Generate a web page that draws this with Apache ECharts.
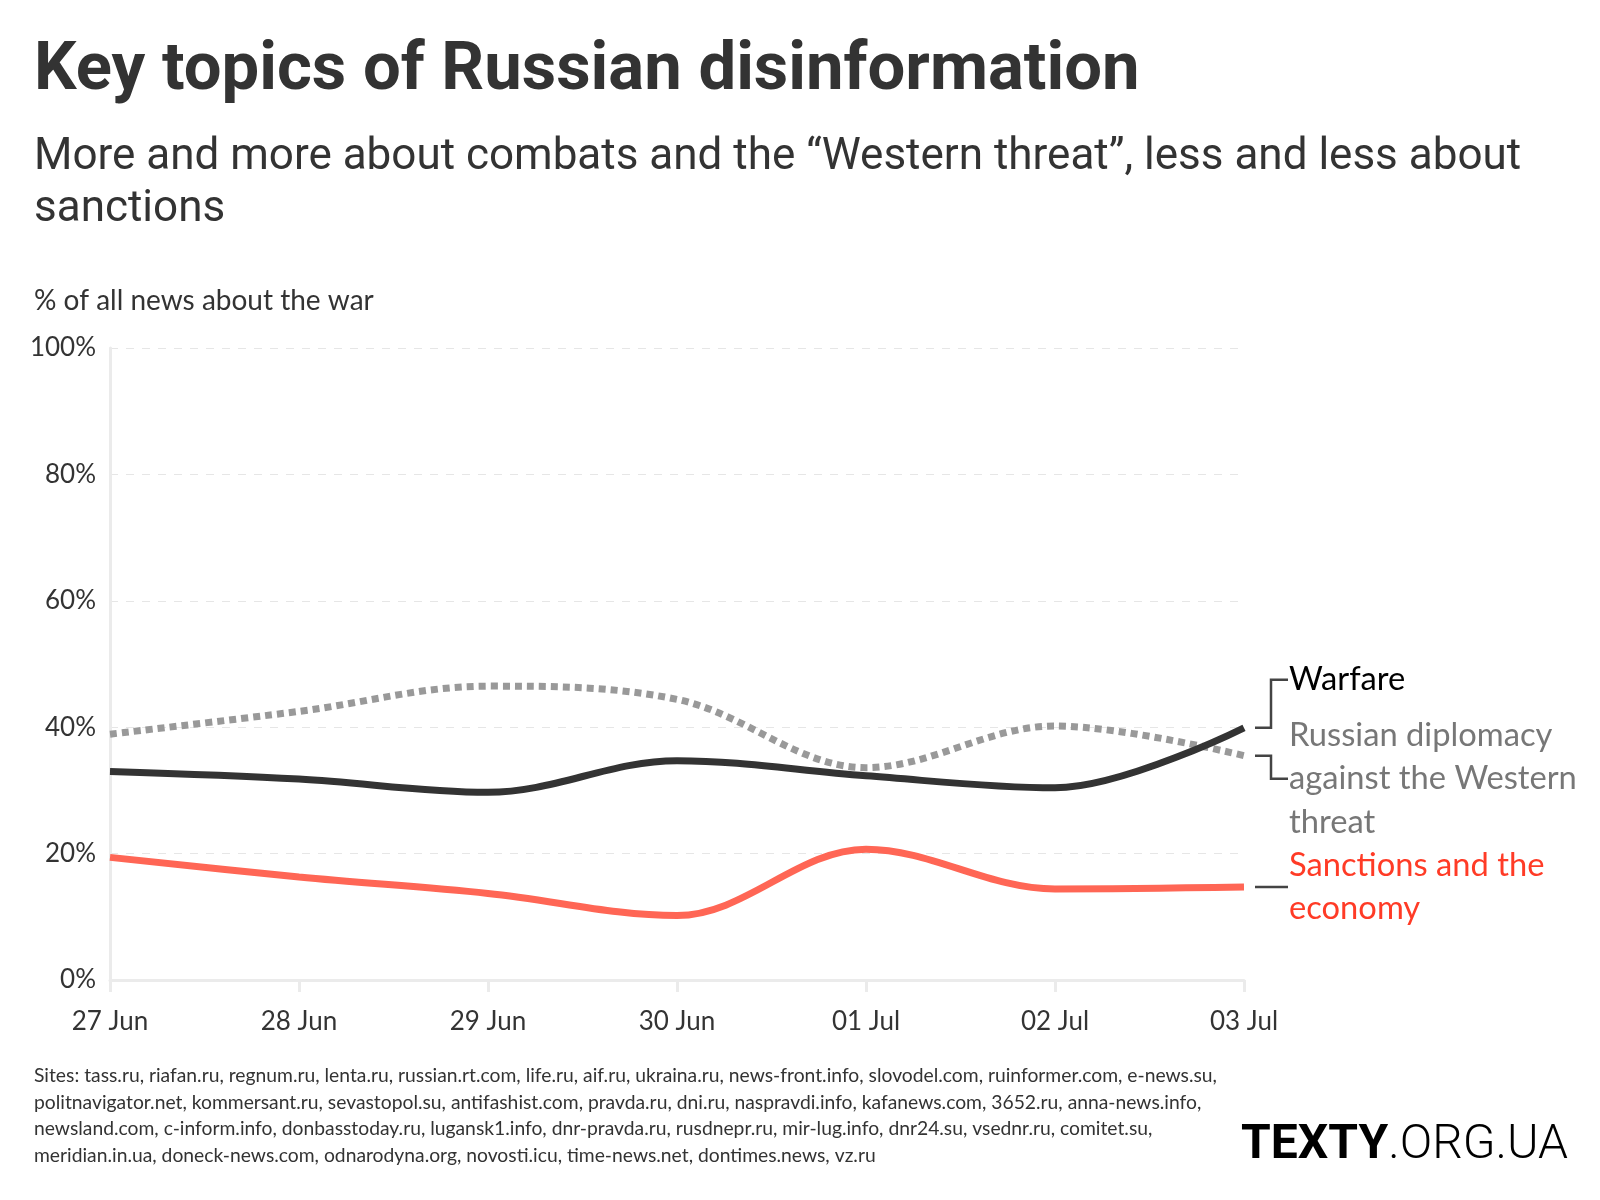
<!DOCTYPE html>
<html>
<head>
<meta charset="utf-8">
<script src="https://cdn.jsdelivr.net/npm/echarts@6/dist/echarts.min.js"></script>
<style>
html,body{margin:0;padding:0;background:#fff;}
#chart{width:1600px;height:1200px;}
</style>
</head>
<body>
<div id="chart"></div>
<script>
const categories = ['27 Jun','28 Jun','29 Jun','30 Jun','01 Jul','02 Jul','03 Jul'];
const warfare = [33.0, 31.8, 29.7, 34.7, 32.3, 30.4, 39.9];
const diplomacy = [38.9, 42.5, 46.5, 44.4, 33.6, 40.2, 35.5];
const sanctions = [19.4, 16.3, 13.7, 10.2, 20.7, 14.4, 14.7];
const yTicks = [0, 20, 40, 60, 80, 100];
const seriesNames = ['Warfare', 'Russian diplomacy\nagainst the Western\nthreat', 'Sanctions and the\neconomy'];
const titleText = 'Key topics of Russian disinformation';
const subtitleText = 'More and more about combats and the \u201cWestern threat\u201d, less and less about\nsanctions';
const axisNameText = '% of all news about the war';
const footerText = 'Sites: tass.ru, riafan.ru, regnum.ru, lenta.ru, russian.rt.com, life.ru, aif.ru, ukraina.ru, news-front.info, slovodel.com, ruinformer.com, e-news.su,\npolitnavigator.net, kommersant.ru, sevastopol.su, antifashist.com, pravda.ru, dni.ru, naspravdi.info, kafanews.com, 3652.ru, anna-news.info,\nnewsland.com, c-inform.info, donbasstoday.ru, lugansk1.info, dnr-pravda.ru, rusdnepr.ru, mir-lug.info, dnr24.su, vsednr.ru, comitet.su,\nmeridian.in.ua, doneck-news.com, odnarodyna.org, novosti.icu, time-news.net, dontimes.news, vz.ru';

const BODY = 'Lato, "Noto Sans", sans-serif';
const HEAD = 'Roboto, sans-serif';

const chart = echarts.init(document.getElementById('chart'), null, {renderer: 'canvas'});

const option = {
  backgroundColor: '#fff',
  animation: false,
  title: [
    {text: titleText, left: 29, top: 34, textStyle: {fontFamily: HEAD, fontWeight: 'bold', fontSize: 67, color: '#333'}},
    {text: subtitleText, left: 29, top: 127, textStyle: {fontFamily: HEAD, fontWeight: 'normal', fontSize: 44, lineHeight: 52, color: '#333'}},
    {text: axisNameText, left: 29, top: 282, textStyle: {fontFamily: BODY, fontWeight: 'normal', fontSize: 28, color: '#333'}},
    {text: footerText, left: 29, top: 1058, textStyle: {fontFamily: BODY, fontWeight: 'normal', fontSize: 19.3, lineHeight: 26.5, color: '#333'}},
    {text: '{b|TEXTY}{l|.ORG.UA}', right: 27, top: 1117, textStyle: {rich: {
      b: {fontFamily: HEAD, fontWeight: 'bold', fontSize: 48, color: '#000'},
      l: {fontFamily: HEAD, fontWeight: 300, fontSize: 48, color: '#000'}
    }}}
  ],
  grid: {left: 110, right: 356, top: 348, bottom: 220, containLabel: false},
  xAxis: {
    type: 'category',
    data: categories,
    boundaryGap: false,
    axisLine: {lineStyle: {color: '#ebebeb', width: 3}},
    axisTick: {show: true, length: 12, lineStyle: {color: '#ebebeb', width: 3}},
    axisLabel: {fontFamily: BODY, fontSize: 26, color: '#333', margin: 29},
    splitLine: {show: false}
  },
  yAxis: {
    type: 'value',
    min: 0, max: 100, interval: 20,
    axisLine: {show: true, lineStyle: {color: '#ebebeb', width: 3}},
    axisTick: {show: false},
    axisLabel: {fontFamily: BODY, fontSize: 26, color: '#333', margin: 14,
      formatter: function (v) { return yTicks.indexOf(v) >= 0 ? v + '%' : ''; }},
    splitLine: {show: true, lineStyle: {color: '#e6e6e6', width: 1, type: [8, 8]}}
  },
  series: [
    {name: 'Diplomacy', type: 'line', data: diplomacy, smooth: 0.35, showSymbol: false, z: 2,
      lineStyle: {color: '#999999', width: 7, type: [7, 5], cap: 'butt'}},
    {name: 'Warfare', type: 'line', data: warfare, smooth: 0.35, showSymbol: false, z: 3,
      lineStyle: {color: '#333333', width: 7}},
    {name: 'Sanctions', type: 'line', data: sanctions, smooth: 0.35, showSymbol: false, z: 3,
      lineStyle: {color: '#ff6655', width: 7}}
  ]
};
chart.setOption(option);

// annotations positioned from the chart's own scales
const last = categories.length - 1;
const pW = chart.convertToPixel({gridIndex: 0}, [last, warfare[last]]);
const pD = chart.convertToPixel({gridIndex: 0}, [last, diplomacy[last]]);
const pS = chart.convertToPixel({gridIndex: 0}, [last, sanctions[last]]);
const x0 = pW[0] + 11, xm = pW[0] + 27, x1 = pW[0] + 44, tx = pW[0] + 45;
const lh = 43.5;
const wY = pW[1] - 48;
const dY = pD[1] + 23;
const brk = {stroke: '#444', lineWidth: 2.5};
const graphics = [
  {type: 'polyline', shape: {points: [[x0, pW[1]], [xm, pW[1]], [xm, wY], [x1, wY]]}, style: brk},
  {type: 'polyline', shape: {points: [[x0, pD[1]], [xm, pD[1]], [xm, dY], [x1, dY]]}, style: brk},
  {type: 'line', shape: {x1: x0, y1: pS[1], x2: x1, y2: pS[1]}, style: brk},
  {type: 'text', x: tx, y: wY, style: {text: seriesNames[0], fontFamily: BODY, fontSize: 32.7, fill: '#000', verticalAlign: 'middle', lineHeight: lh}},
  {type: 'text', x: tx, y: dY - lh * 1.5, style: {text: seriesNames[1], fontFamily: BODY, fontSize: 32.7, fill: '#777', verticalAlign: 'top', lineHeight: lh}},
  {type: 'text', x: tx, y: pS[1] - lh, style: {text: seriesNames[2], fontFamily: BODY, fontSize: 32.7, fill: '#ff3b26', verticalAlign: 'top', lineHeight: lh}}
];
chart.setOption({graphic: graphics});
</script>
</body>
</html>
